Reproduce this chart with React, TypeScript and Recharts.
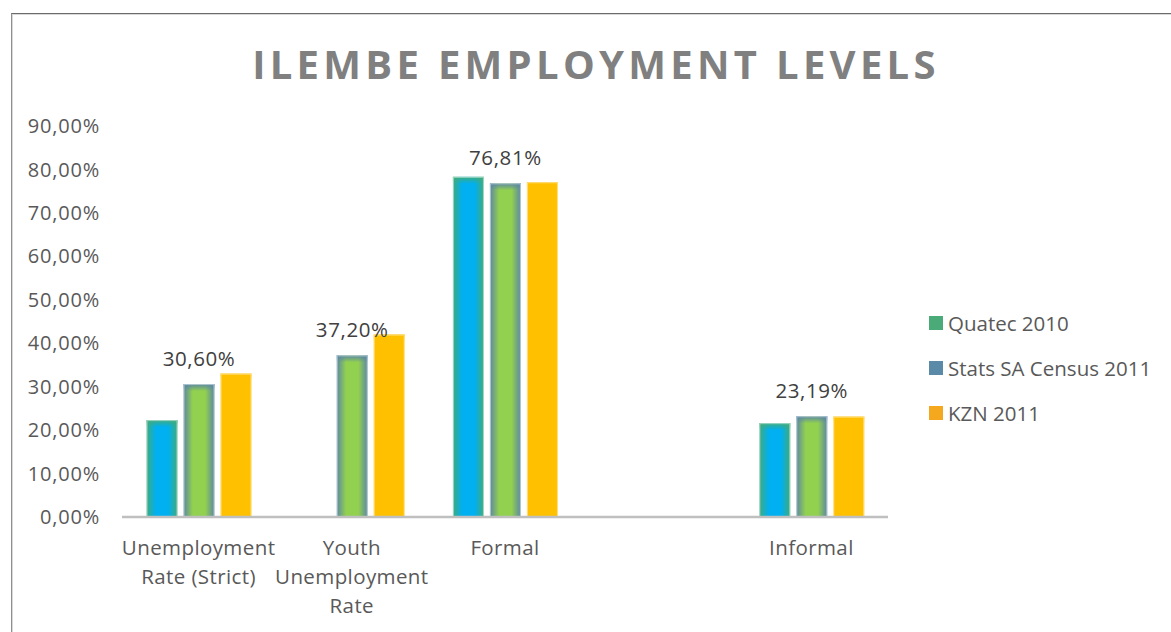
import * as React from 'react';
import { Bar, BarChart, LabelList, XAxis, YAxis } from 'recharts';

const categories = ['Unemployment Rate (Strict)', 'Youth Unemployment Rate', 'Formal', '', 'Informal'];
const quatec2010 = [22.3, null, 78.3, null, 21.6];
const statsSaCensus2011 = [30.6, 37.2, 76.81, null, 23.19];
const kzn2011 = [33.0, 42.0, 77.05, null, 23.1];
const yTicks = [0, 10, 20, 30, 40, 50, 60, 70, 80, 90];

const series = [
  { key: 'quatec', name: 'Quatec 2010', edge: '#3fab7c', center: '#00b0f0', swatch: '#4aab78', label: false },
  { key: 'stats', name: 'Stats SA Census 2011', edge: '#5b87a3', center: '#92d050', swatch: '#5a8aa8', label: true },
  { key: 'kzn', name: 'KZN 2011', edge: '#ffc000', center: '#ffc000', swatch: '#f5a81e', label: false },
];

const data = categories.map((name, i) => ({
  name,
  quatec: quatec2010[i],
  stats: statsSaCensus2011[i],
  kzn: kzn2011[i],
}));

const FONT = '"Open Sans", "DejaVu Sans", sans-serif';

const pct = (v: number) => v.toFixed(2).replace('.', ',') + '%';

// greedy wrap, Excel-style category labels
function wrap(text: string, max = 13) {
  const lines: string[] = [];
  let cur = '';
  for (const w of text.split(' ')) {
    if (!cur) cur = w;
    else if ((cur + ' ' + w).length <= max) cur += ' ' + w;
    else {
      lines.push(cur);
      cur = w;
    }
  }
  if (cur) lines.push(cur);
  return lines;
}

function CategoryTick(props: any) {
  const { x, y, payload } = props;
  const lines = wrap(String(payload.value ?? ''));
  return (
    <text x={x} y={y} textAnchor="middle" fill="#595959" fontSize={20.5} letterSpacing={0.4} fontFamily={FONT}>
      {lines.map((l, i) => (
        <tspan key={i} x={x} dy={i === 0 ? 30 : 29}>
          {l}
        </tspan>
      ))}
    </text>
  );
}

function makeShape(key: string) {
  return (props: any) => {
    const { x, y, width, height } = props;
    if (!height || height <= 0) return <g />;
    const edgeH = Math.min(7, height);
    return (
      <g>
        <rect x={x} y={y} width={width} height={height} fill={`url(#h-${key})`} />
        <rect x={x} y={y} width={width} height={edgeH} fill={`url(#v-${key})`} />
        <rect x={x + 0.5} y={y + 0.5} width={width - 1} height={height - 1} fill="none" stroke="rgba(255,255,255,0.5)" strokeWidth={1} />
      </g>
    );
  };
}

export default function App() {
  return (
    <div style={{ position: 'absolute', left: 0, top: 0, width: 1171, height: 632, background: '#fff', fontFamily: FONT }}>
      <div
        style={{
          position: 'absolute',
          left: 11,
          top: 13,
          width: 1171,
          height: 632,
          borderTop: '1px solid #6b6b6b',
          borderLeft: '1px solid #8f8f8f',
          boxShadow: 'inset 1px 1px 0 #d9d9d9',
        }}
      />
      <div
        style={{
          position: 'absolute',
          left: 0,
          top: 36,
          width: 1192,
          textAlign: 'center',
          fontSize: 40,
          fontWeight: 700,
          letterSpacing: 4.3,
          color: '#808080',
        }}
      >
        ILEMBE EMPLOYMENT LEVELS
      </div>

      <div style={{ position: 'absolute', left: 0, top: 0 }}>
        <BarChart
          width={1171}
          height={632}
          data={data}
          margin={{ top: 126, right: 283, bottom: 15, left: 0 }}
          barCategoryGap="16%"
          barGap={6}
        >
          <defs>
            {series.map((s) => (
              <React.Fragment key={s.key}>
                <linearGradient id={`h-${s.key}`} x1="0" y1="0" x2="1" y2="0">
                  <stop offset="0%" stopColor={s.edge} />
                  <stop offset="30%" stopColor={s.center} />
                  <stop offset="70%" stopColor={s.center} />
                  <stop offset="100%" stopColor={s.edge} />
                </linearGradient>
                <linearGradient id={`v-${s.key}`} x1="0" y1="0" x2="0" y2="1">
                  <stop offset="0%" stopColor={s.edge} stopOpacity={1} />
                  <stop offset="100%" stopColor={s.edge} stopOpacity={0} />
                </linearGradient>
              </React.Fragment>
            ))}
          </defs>
          <XAxis
            dataKey="name"
            height={100}
            interval={0}
            tickLine={false}
            axisLine={{ stroke: '#bfbfbf', strokeWidth: 2.5 }}
            tick={<CategoryTick />}
          />
          <YAxis
            width={122}
            domain={[0, 90]}
            ticks={yTicks}
            tickFormatter={pct}
            axisLine={false}
            tickLine={false}
            tickMargin={16}
            tick={{ fontSize: 20, fill: '#595959', fontFamily: FONT, letterSpacing: 0.8 }}
          />
          {series.map((s) => (
            <Bar key={s.key} dataKey={s.key} name={s.name} fill={s.center} shape={makeShape(s.key)} isAnimationActive={false}>
              {s.label && (
                <LabelList
                  dataKey={s.key}
                  position="top"
                  offset={18}
                  formatter={(v: any) => (v == null ? '' : pct(Number(v)))}
                  style={{ fontSize: 20.5, fill: '#404040', fontFamily: FONT, letterSpacing: 0.6 }}
                />
              )}
            </Bar>
          ))}
        </BarChart>
      </div>

      <div style={{ position: 'absolute', left: 929, top: 300 }}>
        {series.map((s) => (
          <div key={s.key} style={{ display: 'flex', alignItems: 'center', height: 45 }}>
            <span style={{ display: 'inline-block', width: 14, height: 14, background: s.swatch, marginRight: 5 }} />
            <span style={{ fontSize: 20.5, color: '#595959', lineHeight: '28px' }}>{s.name}</span>
          </div>
        ))}
      </div>
    </div>
  );
}
